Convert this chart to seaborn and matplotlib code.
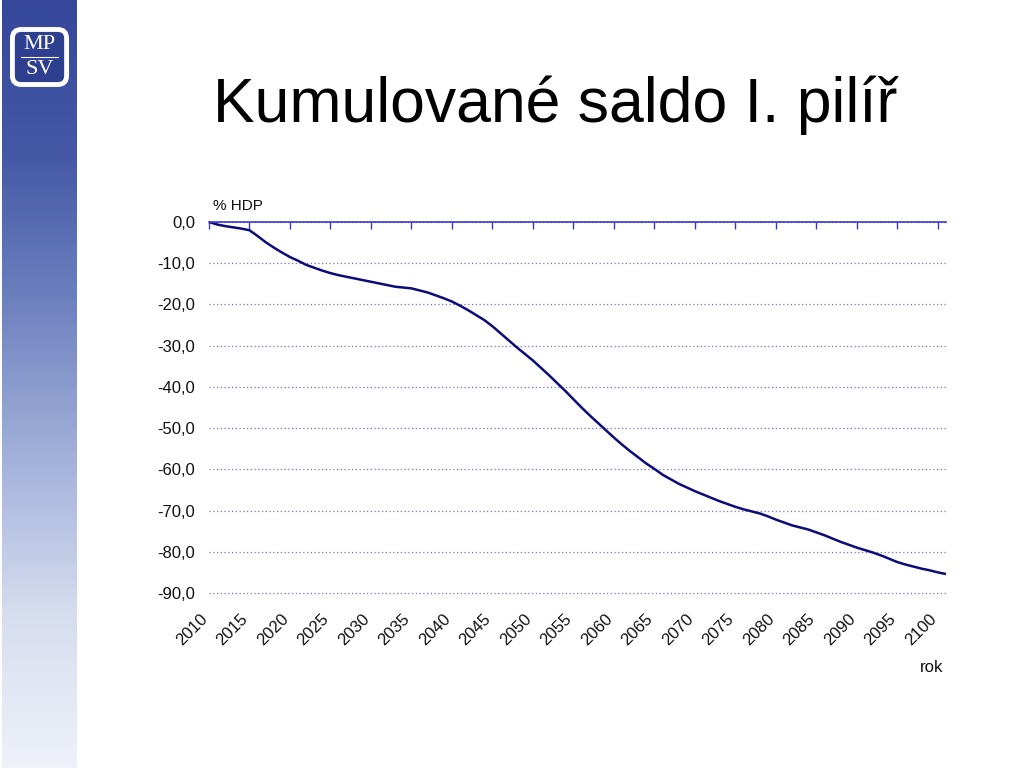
import numpy as np
import pandas as pd
import matplotlib
matplotlib.use("Agg")
import matplotlib.pyplot as plt
from matplotlib.colors import LinearSegmentedColormap
from matplotlib.patches import FancyBboxPatch
from matplotlib.transforms import ScaledTranslation
import seaborn as sns

# ---- data ----
years = list(range(2010, 2102))
saldo = [
    0.0, -0.6, -1.0, -1.3, -1.6, -2.0, -3.4, -4.9, -6.2, -7.4,      # 2010-2019
    -8.5, -9.4, -10.4, -11.1, -11.8, -12.4, -12.9, -13.3, -13.7, -14.1,  # 2020-2029
    -14.5, -14.9, -15.3, -15.7, -15.9, -16.1, -16.6, -17.1, -17.8, -18.5,  # 2030-2039
    -19.3, -20.3, -21.4, -22.6, -23.8, -25.3, -27.0, -28.7, -30.4, -32.0,  # 2040-2049
    -33.6, -35.4, -37.2, -39.1, -41.0, -43.0, -45.0, -46.9, -48.7, -50.5,  # 2050-2059
    -52.3, -54.0, -55.6, -57.1, -58.6, -59.9, -61.3, -62.4, -63.5, -64.4,  # 2060-2069
    -65.3, -66.1, -66.9, -67.7, -68.4, -69.1, -69.7, -70.2, -70.7, -71.4,  # 2070-2079
    -72.2, -72.9, -73.6, -74.1, -74.6, -75.3, -76.0, -76.8, -77.6, -78.3,  # 2080-2089
    -79.0, -79.6, -80.2, -80.9, -81.7, -82.5, -83.1, -83.6, -84.1, -84.5,  # 2090-2099
    -85.0, -85.4,                                                          # 2100-2101
]
x_ticks = list(range(2010, 2101, 5))
y_ticks = list(range(-90, 1, 10))
y_tick_labels = [f"{v},0" for v in y_ticks]
title = "Kumulované saldo I. pilíř"
y_unit = "% HDP"
x_name = "rok"

sns.set_theme(style="white")
plt.rcParams["font.family"] = ["Liberation Sans", "DejaVu Sans"]

fig = plt.figure(figsize=(10.24, 7.68), dpi=100)
fig.patch.set_facecolor("white")

# ---- left decorative strip ----
sax = fig.add_axes([2 / 1024, 0, 75 / 1024, 1])
grad = np.linspace(0, 1, 256)[:, None]
cmap = LinearSegmentedColormap.from_list(
    "strip", ["#36479b", "#4558a6", "#6f83c0", "#a3b2da", "#d6ddef", "#eef1f8"])
sax.imshow(grad, aspect="auto", cmap=cmap, extent=[0, 1, 0, 1], origin="upper")
sax.set_xlim(0, 1)
sax.set_ylim(0, 1)
sax.axis("off")

# ---- logo ----
lax = fig.add_axes([8 / 1024, 1 - 89 / 768, 63 / 1024, 64 / 768])
lax.set_xlim(0, 1)
lax.set_ylim(0, 1)
lax.axis("off")
lax.add_patch(FancyBboxPatch((0.07, 0.07), 0.86, 0.86,
                             boxstyle="round,pad=0,rounding_size=0.14",
                             fc="#2d3f8e", ec="white", lw=3.5))
lax.plot([0.2, 0.8], [0.5, 0.5], color="white", lw=0.8)
lax.text(0.5, 0.69, "MP", color="white", ha="center", va="center",
         fontsize=16, family="Liberation Serif")
lax.text(0.5, 0.30, "SV", color="white", ha="center", va="center",
         fontsize=16, family="Liberation Serif")

# ---- title ----
fig.text(213 / 1024, 1 - 122 / 768, title, ha="left", va="baseline",
         fontsize=45, color="black")

# ---- chart ----
ax = fig.add_axes([209 / 1024, 1 - 593 / 768, 737 / 1024, 371 / 768])
df = pd.DataFrame({"rok": years, "saldo": saldo})
sns.lineplot(data=df, x="rok", y="saldo", ax=ax, color="#0b0b7a", lw=1.8)

ax.set_xlim(2010, 2101)
ax.set_ylim(-90, 0)
ax.set_xticks(x_ticks)
ax.set_xticklabels([str(t) for t in x_ticks], rotation=45, ha="right",
                   va="center", rotation_mode="anchor")
ax.set_yticks(y_ticks)
ax.set_yticklabels(y_tick_labels)
ax.set_xlabel("")
ax.set_ylabel("")

ax.grid(axis="y", linestyle=(0, (1, 2)), color="#7070d8", lw=0.9)
ax.grid(axis="x", visible=False)
for gl in ax.get_ygridlines():
    gl.set_clip_on(False)
for s in ["left", "right", "bottom"]:
    ax.spines[s].set_visible(False)
ax.spines["top"].set_visible(True)
ax.spines["top"].set_color("#3a3ac8")
ax.spines["top"].set_linewidth(1.2)

ax.tick_params(axis="x", top=True, bottom=False, direction="in", length=5,
               width=1, color="#3a3ac8", labeltop=False, labelbottom=True,
               labelsize=12, labelcolor="#111111", pad=17)
ax.tick_params(axis="y", left=False, labelsize=12, labelcolor="#111111", pad=4)
ax.set_facecolor("white")

offset = ScaledTranslation(-4 / 100, 0, fig.dpi_scale_trans)
for lab in ax.get_xticklabels():
    lab.set_transform(lab.get_transform() + offset)

fig.text(213 / 1024, 1 - 206 / 768, y_unit, ha="left", va="center",
         fontsize=11, color="#111111")
fig.text(943 / 1024, 1 - 668 / 768, x_name, ha="right", va="center",
         fontsize=12, color="#111111")

fig.savefig("out.png", dpi=100)
